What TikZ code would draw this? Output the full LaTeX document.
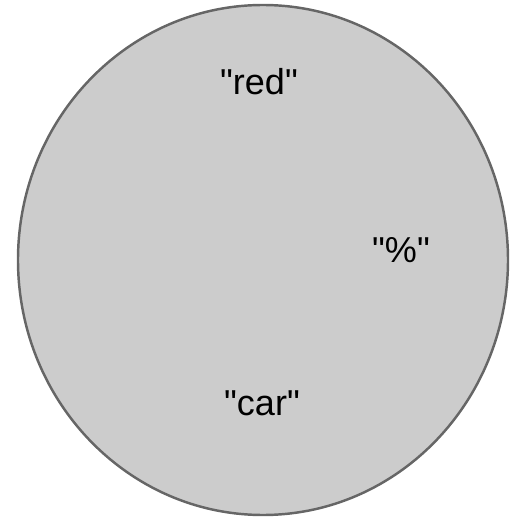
\documentclass[tikz,border=0pt]{standalone}
\usepackage{fontspec}
\setmainfont{Liberation Sans}
\definecolor{setfill}{HTML}{CCCCCC}
\definecolor{setline}{HTML}{666666}
\tikzset{
    word/.style={font=\fontsize{20.5}{22}\selectfont, text=black},
}
\begin{document}
\begin{tikzpicture}[x=0.02cm,y=-0.02cm]
            \useasboundingbox (0,0) rectangle (528,517);
            \draw [line width=1.4pt, draw=setline, fill=setfill] (263,260) ellipse [x radius=245, y radius=255];
            \node [word] (red) at (259,82) {\textquotedbl red\textquotedbl};
            \node [word] (pct) at (401,250) {\textquotedbl\%\textquotedbl};
            \node [word] (car) at (262,403) {\textquotedbl car\textquotedbl};
        \end{tikzpicture}
\end{document}
